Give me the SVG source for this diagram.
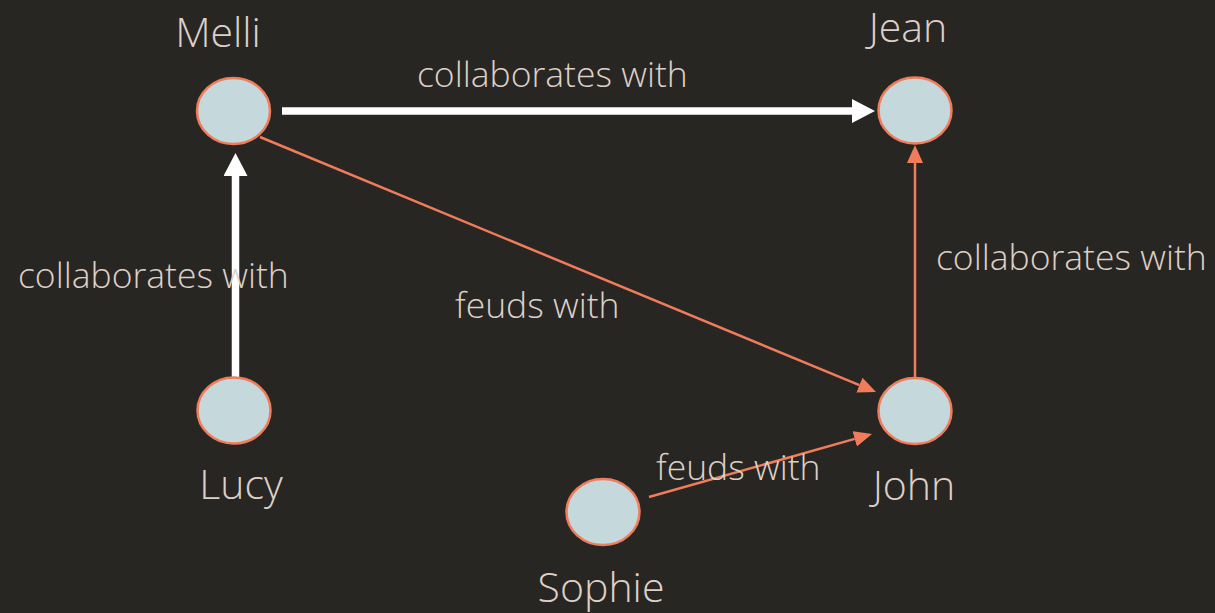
<svg xmlns="http://www.w3.org/2000/svg" width="1215" height="613" viewBox="0 0 1215 613">
  <style>
    .node { fill: #c5d8dc; stroke: #f07c5c; stroke-width: 2.5; }
    .name { font-family: "Open Sans", "Liberation Sans", sans-serif; font-weight: 300; font-size: 41px; fill: #ddd0c8; text-anchor: middle; }
    .rel { font-family: "Open Sans", "Liberation Sans", sans-serif; font-weight: 300; font-size: 35.5px; fill: #ddd0c8; }
    .strong { stroke: #ffffff; stroke-width: 7.5; fill: none; }
    .weak { stroke: #f07c5c; stroke-width: 2.5; fill: none; }
  </style>
  <defs>
    <!-- arrowheads start at the line end and point forward -->
    <marker id="headWhite" markerUnits="userSpaceOnUse" markerWidth="26" markerHeight="26" refX="0" refY="12" orient="auto">
      <path d="M0,0 L23,12 L0,24 Z" fill="#ffffff"/>
    </marker>
    <marker id="headOrange" markerUnits="userSpaceOnUse" markerWidth="20" markerHeight="18" refX="0" refY="8" orient="auto">
      <path d="M0,0 L18,8 L0,16 Z" fill="#f07c5c"/>
    </marker>
  </defs>

  <rect width="1215" height="613" fill="#282622"/>

  <g id="connectors">
    <line class="strong" x1="282" y1="111" x2="852" y2="111" marker-end="url(#headWhite)"/>
    <line class="strong" x1="235.5" y1="386" x2="235.5" y2="176" marker-end="url(#headWhite)"/>
    <line class="weak" x1="260" y1="137" x2="859.4" y2="385.1" marker-end="url(#headOrange)"/>
    <line class="weak" x1="915" y1="378" x2="915" y2="163" marker-end="url(#headOrange)"/>
    <line class="weak" x1="649" y1="497" x2="854.7" y2="438.9" marker-end="url(#headOrange)"/>
    <text class="rel" x="417" y="87">collaborates with</text>
    <text class="rel" x="18" y="288">collaborates with</text>
    <text class="rel" x="936" y="270">collaborates with</text>
    <text class="rel" x="455" y="318">feuds with</text>
    <text class="rel" x="656" y="480">feuds with</text>
  </g>

  <g id="melli">
    <ellipse class="node" cx="233.5" cy="111" rx="36.5" ry="33"/>
    <text class="name" x="218" y="47">Melli</text>
  </g>
  <g id="jean">
    <ellipse class="node" cx="915" cy="110.5" rx="36.5" ry="33"/>
    <text class="name" x="908" y="42">Jean</text>
  </g>
  <g id="lucy">
    <ellipse class="node" cx="234" cy="410.5" rx="36.5" ry="33"/>
    <text class="name" x="241" y="499">Lucy</text>
  </g>
  <g id="john">
    <ellipse class="node" cx="915" cy="411" rx="36.5" ry="33"/>
    <text class="name" x="914" y="500">John</text>
  </g>
  <g id="sophie">
    <ellipse class="node" cx="603" cy="512" rx="36.5" ry="33"/>
    <text class="name" x="601" y="602">Sophie</text>
  </g>
</svg>
